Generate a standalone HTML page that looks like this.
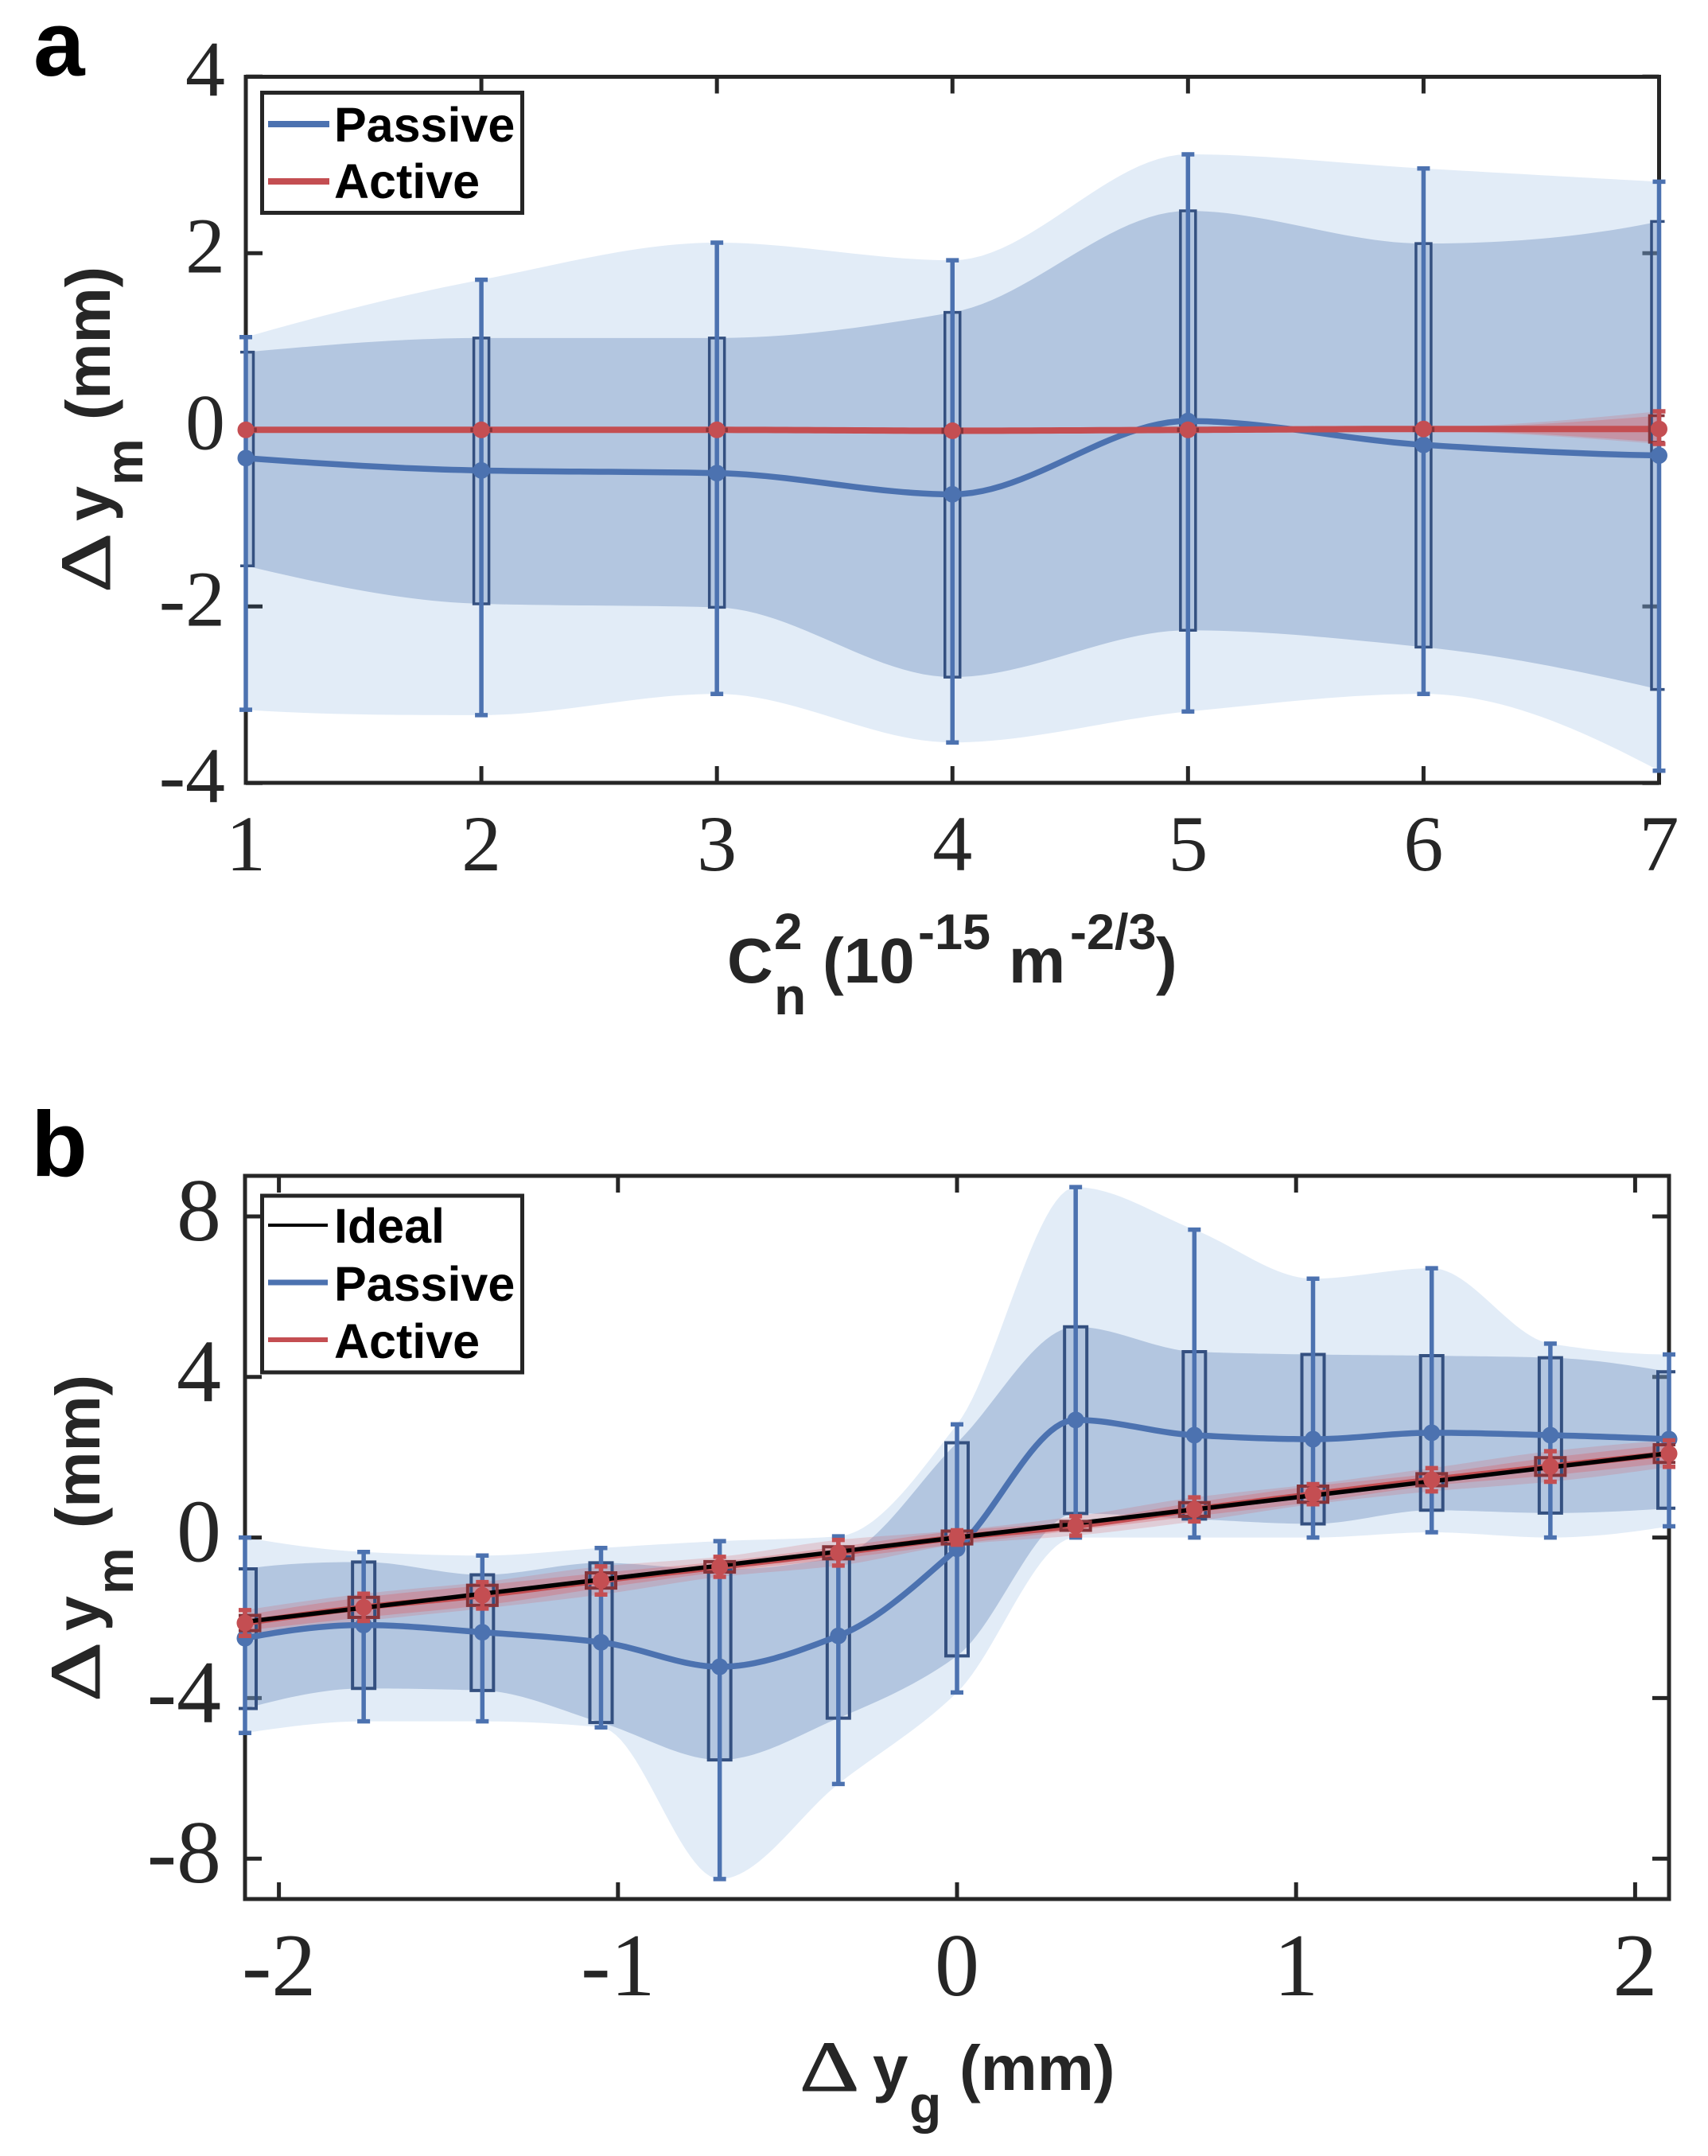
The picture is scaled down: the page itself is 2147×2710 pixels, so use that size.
<!DOCTYPE html>
<html lang="en">
<head>
<meta charset="utf-8">
<title>Measured displacement versus turbulence strength and ground displacement</title>
<style>
html,body{margin:0;padding:0;background:#fff;}
svg{display:block;}
.tick{font-family:"Liberation Serif",serif;fill:#262626;}
.lab{font-family:"Liberation Sans",sans-serif;font-weight:700;fill:#262626;}
.leg{font-family:"Liberation Sans",sans-serif;font-weight:700;fill:#000;font-size:61px;}
.delta{font-family:"Liberation Serif",serif;fill:#262626;stroke:#262626;stroke-width:1;font-size:90px;}
.panel{font-family:"Liberation Sans",sans-serif;font-weight:700;fill:#000;font-size:116px;}
</style>
</head>
<body>
<svg id="fig" xmlns="http://www.w3.org/2000/svg" width="2147" height="2710" viewBox="0 0 2147 2710">
  <rect x="0" y="0" width="2147" height="2710" fill="#ffffff"/>

  <text class="panel" x="42" y="95">a</text>
  <g id="a-ticks"></g>
  <rect x="309" y="96.5" width="1776.5" height="887.5" fill="none" stroke="#262626" stroke-width="5"/>
  <g id="a-marks"></g>
  <g>
    <rect x="329.5" y="116.5" width="327" height="151" fill="#ffffff" stroke="#262626" stroke-width="5"/>
    <line x1="337" x2="414" y1="156" y2="156" stroke="#4C72B0" stroke-width="8"/>
    <text class="leg" x="420" y="178">Passive</text>
    <line x1="337" x2="414" y1="228" y2="228" stroke="#C44E52" stroke-width="8"/>
    <text class="leg" x="420" y="249">Active</text>
  </g>
  <g transform="translate(138,745) rotate(-90)">
    <text class="delta" transform="scale(1.3,1)" x="0" y="0">Δ</text>
    <text class="lab" font-size="79" x="90" y="0">y</text>
    <text class="lab" font-size="66" x="135" y="41">m</text>
    <text class="lab" font-size="79" x="217" y="0">(mm)</text>
  </g>
  <g>
    <text class="lab" font-size="80" x="914" y="1235">C</text>
    <text class="lab" font-size="64" x="973" y="1193">2</text>
    <text class="lab" font-size="66" x="973" y="1275">n</text>
    <text class="lab" font-size="80" x="1034" y="1235">(10</text>
    <text class="lab" font-size="63" x="1154" y="1193">-15</text>
    <text class="lab" font-size="80" x="1268" y="1235">m</text>
    <text class="lab" font-size="63" x="1345" y="1193">-2/3</text>
    <text class="lab" font-size="80" x="1453" y="1235">)</text>
  </g>

  <text class="panel" x="39" y="1478">b</text>
  <g id="b-ticks"></g>
  <rect x="308" y="1478" width="1790" height="909" fill="none" stroke="#262626" stroke-width="5"/>
  <g id="b-marks"></g>
  <g>
    <rect x="329.5" y="1503" width="327" height="222" fill="#ffffff" stroke="#262626" stroke-width="5"/>
    <line x1="337" x2="412" y1="1540" y2="1540" stroke="#000000" stroke-width="4"/>
    <text class="leg" x="420" y="1562">Ideal</text>
    <line x1="337" x2="412" y1="1612" y2="1612" stroke="#4C72B0" stroke-width="7"/>
    <text class="leg" x="420" y="1635">Passive</text>
    <line x1="337" x2="412" y1="1684" y2="1684" stroke="#C44E52" stroke-width="6"/>
    <text class="leg" x="420" y="1707">Active</text>
  </g>
  <g transform="translate(125,2139) rotate(-90)">
    <text class="delta" transform="scale(1.3,1)" x="0" y="0">Δ</text>
    <text class="lab" font-size="79" x="89" y="0">y</text>
    <text class="lab" font-size="66" x="135" y="42">m</text>
    <text class="lab" font-size="79" x="218" y="0">(mm)</text>
  </g>
  <g>
    <text class="delta" transform="translate(1005,2628) scale(1.3,1)" x="0" y="0">Δ</text>
    <text class="lab" font-size="80" x="1097" y="2627">y</text>
    <text class="lab" font-size="66" x="1143" y="2668">g</text>
    <text class="lab" font-size="80" x="1206" y="2627">(mm)</text>
  </g>
</svg>

<script>
// ---- Panel a data ----
const aCn2 = [1, 2, 3, 4, 5, 6, 7];
const aPassiveMean = [-0.32, -0.46, -0.49, -0.73, 0.10, -0.17, -0.29];
const aPassiveErrHi = [1.05, 1.70, 2.12, 1.92, 3.12, 2.96, 2.81];
const aPassiveErrLo = [-3.17, -3.23, -2.99, -3.54, -3.19, -2.99, -3.86];
const aPassiveBoxHi = [0.88, 1.04, 1.04, 1.33, 2.48, 2.11, 2.36];
const aPassiveBoxLo = [-1.54, -1.97, -2.01, -2.80, -2.27, -2.46, -2.94];
const aActiveMean = [0.00, 0.00, 0.00, -0.01, 0.00, 0.01, 0.01];
const aActiveErrHi = [0.02, 0.02, 0.02, 0.02, 0.02, 0.03, 0.21];
const aActiveErrLo = [-0.02, -0.02, -0.02, -0.05, -0.02, -0.02, -0.16];
const aActiveBoxHi = [0.01, 0.01, 0.01, 0.01, 0.01, 0.02, 0.16];
const aActiveBoxLo = [-0.01, -0.01, -0.01, -0.03, -0.01, -0.01, -0.14];
const aXTicks = [1, 2, 3, 4, 5, 6, 7];
const aYTicks = [4, 2, 0, -2, -4];

// ---- Panel b data ----
const bGround = [-2.1, -1.75, -1.4, -1.05, -0.7, -0.35, 0, 0.35, 0.7, 1.05, 1.4, 1.75, 2.1];
const bPassiveMean = [-2.51, -2.18, -2.36, -2.61, -3.22, -2.45, -0.28, 2.93, 2.55, 2.45, 2.61, 2.55, 2.45];
const bPassiveErrHi = [0.00, -0.36, -0.45, -0.26, -0.09, 0.03, 2.82, 8.73, 7.67, 6.45, 6.71, 4.83, 4.56];
const bPassiveErrLo = [-4.87, -4.58, -4.58, -4.73, -8.51, -6.14, -3.86, 0.00, 0.00, 0.00, 0.13, 0.00, 0.28];
const bPassiveBoxHi = [-0.78, -0.61, -0.93, -0.63, -0.80, -0.48, 2.36, 5.25, 4.63, 4.56, 4.53, 4.48, 4.13];
const bPassiveBoxLo = [-4.26, -3.76, -3.81, -4.61, -5.54, -4.50, -2.95, 0.60, 0.46, 0.34, 0.68, 0.61, 0.73];
const bActiveMean = [-2.13, -1.74, -1.44, -1.07, -0.73, -0.38, 0.00, 0.29, 0.70, 1.08, 1.44, 1.77, 2.09];
const bActiveBoxHi = [-1.94, -1.49, -1.19, -0.88, -0.60, -0.23, 0.16, 0.40, 0.87, 1.28, 1.59, 1.99, 2.31];
const bActiveBoxLo = [-2.32, -1.99, -1.69, -1.26, -0.86, -0.53, -0.16, 0.18, 0.53, 0.88, 1.29, 1.55, 1.87];
const bActiveErrHi = [-1.81, -1.40, -1.11, -0.72, -0.48, -0.06, 0.18, 0.53, 1.00, 1.33, 1.73, 2.15, 2.42];
const bActiveErrLo = [-2.45, -2.08, -1.77, -1.42, -0.98, -0.70, -0.18, 0.05, 0.40, 0.83, 1.15, 1.39, 1.76];
const bIdealX = [-2.1, 2.1];
const bIdealY = [-2.1, 2.1];
const bXTicks = [-2, -1, 0, 1, 2];
const bYTicks = [8, 4, 0, -4, -8];

// ---- Axis functions ----
function xA(v) { return 309 + (v - 1) * (2085.5 - 309) / 6; }
function yA(v) { return 540.3 - v * 111; }
function xB(v) { return 1203 + v * 426.2; }
function yB(v) { return 1932.6 - v * 50.45; }

const NS = 'http://www.w3.org/2000/svg';
function make(parent, tag, attrs) {
  const el = document.createElementNS(NS, tag);
  for (const k in attrs) el.setAttribute(k, attrs[k]);
  parent.appendChild(el);
  return el;
}

// Shape-preserving piecewise cubic interpolation (PCHIP)
function pchipSlopes(x, y) {
  const n = x.length, h = [], d = [], m = new Array(n).fill(0);
  for (let i = 0; i < n - 1; i++) { h.push(x[i + 1] - x[i]); d.push((y[i + 1] - y[i]) / h[i]); }
  for (let i = 1; i < n - 1; i++) {
    if (d[i - 1] * d[i] > 0) {
      const w1 = 2 * h[i] + h[i - 1], w2 = h[i] + 2 * h[i - 1];
      m[i] = (w1 + w2) / (w1 / d[i - 1] + w2 / d[i]);
    }
  }
  function edge(h0, h1, d0, d1) {
    let s = ((2 * h0 + h1) * d0 - h0 * d1) / (h0 + h1);
    if (s * d0 <= 0) s = 0;
    else if (d0 * d1 <= 0 && Math.abs(s) > 3 * Math.abs(d0)) s = 3 * d0;
    return s;
  }
  m[0] = edge(h[0], h[1], d[0], d[1]);
  m[n - 1] = edge(h[n - 2], h[n - 3], d[n - 2], d[n - 3]);
  return m;
}
function curve(xs, ys, fx, fy) {
  const m = pchipSlopes(xs, ys), pts = [], steps = 24;
  for (let i = 0; i < xs.length - 1; i++) {
    const h = xs[i + 1] - xs[i];
    for (let s = 0; s < steps + (i === xs.length - 2 ? 1 : 0); s++) {
      const t = s / steps, t2 = t * t, t3 = t2 * t;
      const v = (2 * t3 - 3 * t2 + 1) * ys[i] + (t3 - 2 * t2 + t) * h * m[i]
              + (-2 * t3 + 3 * t2) * ys[i + 1] + (t3 - t2) * h * m[i + 1];
      pts.push([fx(xs[i] + t * h), fy(v)]);
    }
  }
  return pts;
}
function pathOf(pts) {
  return 'M' + pts.map(p => p[0].toFixed(2) + ' ' + p[1].toFixed(2)).join('L');
}
function bandPath(xs, hi, lo, fx, fy) {
  const up = curve(xs, hi, fx, fy), dn = curve(xs, lo, fx, fy).reverse();
  return pathOf(up.concat(dn)) + 'Z';
}
function boxPath(cx, top, bot, hw, ext, left, right) {
  const l = cx - hw, r = cx + hw;
  if (l < left) return 'M' + (cx - ext) + ' ' + top + 'H' + r + 'V' + bot + 'H' + (cx - ext);
  if (r > right) return 'M' + (cx + ext) + ' ' + top + 'H' + l + 'V' + bot + 'H' + (cx + ext);
  return 'M' + l + ' ' + top + 'H' + r + 'V' + bot + 'H' + l + 'Z';
}
function errorBar(g, cx, hi, lo, cap, color, w) {
  const bar = make(g, 'path', {
    d: 'M' + cx + ' ' + hi + 'V' + lo + 'M' + (cx - cap) + ' ' + hi + 'H' + (cx + cap) + 'M' + (cx - cap) + ' ' + lo + 'H' + (cx + cap),
    fill: 'none', stroke: color, 'stroke-width': w
  });
  return bar;
}

function drawTicks(g, xTicks, yTicks, fx, fy, L, R, T, B, fontSize, yRight, yDy, xBase) {
  xTicks.forEach(function (v) {
    const up = make(g, 'line', { x1: fx(v), x2: fx(v), y1: T, y2: T + 21, stroke: '#262626', 'stroke-width': 5 });
    
    
    const dn = make(g, 'line', { x1: fx(v), x2: fx(v), y1: B, y2: B - 21, stroke: '#262626', 'stroke-width': 5 });
    
    
    const t = make(g, 'text', { x: fx(v), y: xBase, 'text-anchor': 'middle', 'font-size': fontSize, class: 'tick' });
    
    
    t.textContent = String(v);
  });
  yTicks.forEach(function (v) {
    const a = make(g, 'line', { x1: L, x2: L + 21, y1: fy(v), y2: fy(v), stroke: '#262626', 'stroke-width': 5 });
    
    
    const b = make(g, 'line', { x1: R, x2: R - 21, y1: fy(v), y2: fy(v), stroke: '#262626', 'stroke-width': 5 });
    
    
    const t = make(g, 'text', { x: yRight, y: fy(v) + yDy, 'text-anchor': 'end', 'font-size': fontSize, class: 'tick' });
    
    
    t.textContent = String(v);
  });
}

function drawSeries(g, s) {
  const fx = s.fx, fy = s.fy;
  const lightBand = make(g, 'path', { d: bandPath(s.x, s.pErrHi, s.pErrLo, fx, fy), fill: 'rgb(62,128,202)', 'fill-opacity': 0.15 });
  
  
  const darkBand = make(g, 'path', { d: bandPath(s.x, s.pBoxHi, s.pBoxLo, fx, fy), fill: 'rgb(121,154,196)', 'fill-opacity': 0.45 });
  
  
  const redOuter = make(g, 'path', { d: bandPath(s.x, s.aErrHi, s.aErrLo, fx, fy), fill: '#D9555C', 'fill-opacity': 0.2 });
  
  
  const redInner = make(g, 'path', { d: bandPath(s.x, s.aBoxHi, s.aBoxLo, fx, fy), fill: '#D9555C', 'fill-opacity': 0.3 });
  
  

  s.x.forEach(function (v, i) {
    const box = make(g, 'path', {
      d: boxPath(fx(v), fy(s.pBoxHi[i]), fy(s.pBoxLo[i]), s.boxHW, s.edgeExt, s.L, s.R),
      fill: 'none', stroke: '#345080', 'stroke-width': s.boxW
    });
    
    
  });
  s.x.forEach(function (v, i) {
    const bar = errorBar(g, fx(v), fy(s.pErrHi[i]), fy(s.pErrLo[i]), 8, '#4C72B0', 5.5);
    
    
  });
  const pLine = make(g, 'path', { d: pathOf(curve(s.x, s.pMean, fx, fy)), fill: 'none', stroke: '#4C72B0', 'stroke-width': 7.5 });
  
  
  s.x.forEach(function (v, i) {
    const pt = make(g, 'circle', { cx: fx(v), cy: fy(s.pMean[i]), r: 10.5, fill: '#4C72B0' });
    
    
  });

  const aLine = make(g, 'path', { d: pathOf(curve(s.x, s.aMean, fx, fy)), fill: 'none', stroke: '#C44E52', 'stroke-width': s.aLineW });
  
  

  if (s.idealX) {
    const ideal = make(g, 'line', { x1: fx(s.idealX[0]), y1: fy(s.idealY[0]), x2: fx(s.idealX[1]), y2: fy(s.idealY[1]), stroke: '#000000', 'stroke-width': 5.5 });
    
    
  }

  s.x.forEach(function (v, i) {
    const box = make(g, 'path', {
      d: boxPath(fx(v), fy(s.aBoxHi[i]), fy(s.aBoxLo[i]), s.aBoxHW, s.edgeExt, s.L, s.R),
      fill: 'none', stroke: '#86343A', 'stroke-width': s.aBoxW
    });
    
    
    const bar = errorBar(g, fx(v), fy(s.aErrHi[i]), fy(s.aErrLo[i]), 8, '#C44E52', 5.5);
    
    
    const pt = make(g, 'circle', { cx: fx(v), cy: fy(s.aMean[i]), r: 10.5, fill: '#C44E52' });
    
    
  });
}

drawTicks(document.getElementById('a-ticks'), aXTicks, aYTicks, xA, yA, 309, 2085.5, 96.5, 984, 100, 283, 24, 1094);
drawTicks(document.getElementById('b-ticks'), bXTicks, bYTicks, xB, yB, 308, 2098, 1478, 2387, 112, 278, 30, 2508);

drawSeries(document.getElementById('a-marks'), {
  x: aCn2, fx: xA, fy: yA, L: 309, R: 2085.5,
  pMean: aPassiveMean, pErrHi: aPassiveErrHi, pErrLo: aPassiveErrLo, pBoxHi: aPassiveBoxHi, pBoxLo: aPassiveBoxLo,
  aMean: aActiveMean, aErrHi: aActiveErrHi, aErrLo: aActiveErrLo, aBoxHi: aActiveBoxHi, aBoxLo: aActiveBoxLo,
  boxHW: 9.5, boxW: 3.5, aBoxHW: 12, aBoxW: 3.5, aLineW: 8, edgeExt: 7
});
drawSeries(document.getElementById('b-marks'), {
  x: bGround, fx: xB, fy: yB, L: 308, R: 2098,
  pMean: bPassiveMean, pErrHi: bPassiveErrHi, pErrLo: bPassiveErrLo, pBoxHi: bPassiveBoxHi, pBoxLo: bPassiveBoxLo,
  aMean: bActiveMean, aErrHi: bActiveErrHi, aErrLo: bActiveErrLo, aBoxHi: bActiveBoxHi, aBoxLo: bActiveBoxLo,
  idealX: bIdealX, idealY: bIdealY,
  boxHW: 14, boxW: 4, aBoxHW: 18.5, aBoxW: 4, aLineW: 7.5, edgeExt: 8
});
</script>
</body>
</html>
